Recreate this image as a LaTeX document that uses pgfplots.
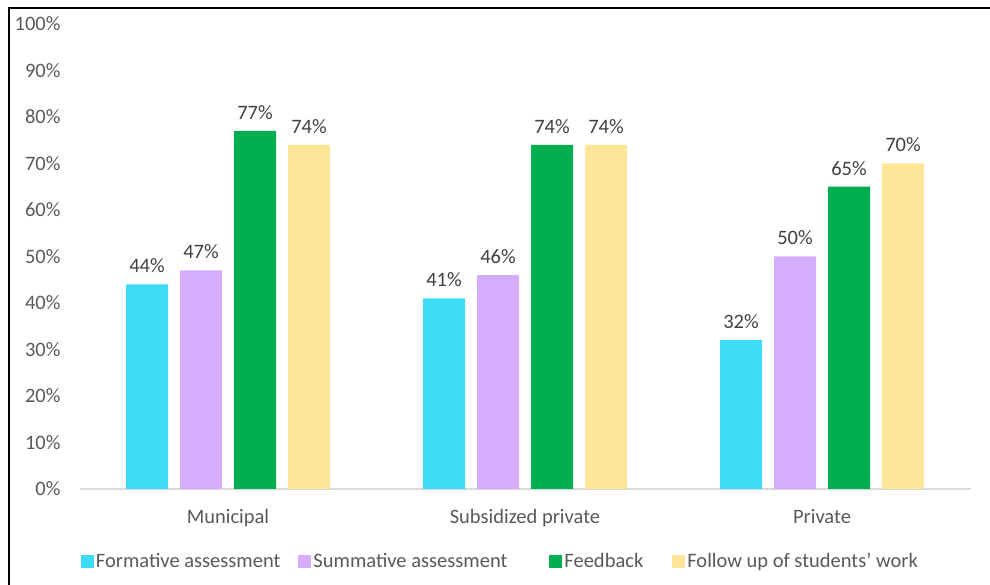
\documentclass[border=0pt]{standalone}
\usepackage{pgfplots}
\pgfplotsset{compat=1.18}
\usepackage{fontspec}
\setmainfont{Carlito}
\definecolor{cyanb}{HTML}{3CDCF7}
\definecolor{lavb}{HTML}{D6ADFC}
\definecolor{greenb}{HTML}{00AD4F}
\definecolor{yellb}{HTML}{FFE597}
\definecolor{txt}{HTML}{595959}
\definecolor{lbl}{HTML}{404040}
\definecolor{grid}{HTML}{D9D9D9}
\begin{document}
\begin{tikzpicture}[x=1pt,y=1pt]
\useasboundingbox (0,0) rectangle (990,585);
\draw[line width=2pt] (9,-5) -- (9,577) -- (995,577);
\begin{axis}[
  at={(228pt,96pt)}, anchor=origin,
  scale only axis, width=891pt, height=465pt,
  xmin=-0.5, xmax=2.5, ymin=0, ymax=100,
  ybar, bar width=42pt,
  axis x line*=bottom, axis y line=none,
  axis line style={draw=grid, line width=1.2pt},
  ymajorgrids, grid style={draw=grid, line width=1pt},
  ytick={0,10,...,100},
  xtick={0,1,2},
  xticklabels={Municipal, Subsidized private, Private},
  major tick length=0pt,
  /pgf/number format/assume math mode=true,
  font=\fontsize{20.5}{23}\selectfont,
  tick label style={text=txt, font=\fontsize{20.5}{23}\selectfont},
  xticklabel style={yshift=-17pt},
  nodes near coords={\pgfmathprintnumber{\pgfplotspointmeta}\%},
  nodes near coords style={text=lbl, font=\fontsize{20.5}{23}\selectfont, yshift=8pt},
  legend columns=4,
  legend style={at={(-0.002,-0.155)}, anchor=west, draw=none, fill=none,
    font=\fontsize{20.5}{23}\selectfont, text=txt,
    /tikz/column 2/.style={column sep=16pt},
    /tikz/column 4/.style={column sep=40pt},
    /tikz/column 6/.style={column sep=27pt}},
  legend image code/.code={\fill[#1] (0pt,-6.5pt) rectangle (13pt,6.5pt);},
]
\addplot[draw=none, fill=cyanb, bar shift=-81pt] coordinates {(0,44) (1,41) (2,32)};
\addplot[draw=none, fill=lavb, bar shift=-27pt] coordinates {(0,47) (1,46) (2,50)};
\addplot[draw=none, fill=greenb, bar shift=27pt] coordinates {(0,77) (1,74) (2,65)};
\addplot[draw=none, fill=yellb, bar shift=81pt] coordinates {(0,74) (1,74) (2,70)};
\legend{Formative assessment, Summative assessment, Feedback, Follow up of students’ work}
\end{axis}
\begin{scope}[font=\fontsize{20.5}{23}\selectfont, text=txt]
\foreach \v in {0,10,...,100} {
  \node[anchor=east] at (64, 96+4.65*\v) {\v\%};
}
\end{scope}
\end{tikzpicture}
\end{document}
